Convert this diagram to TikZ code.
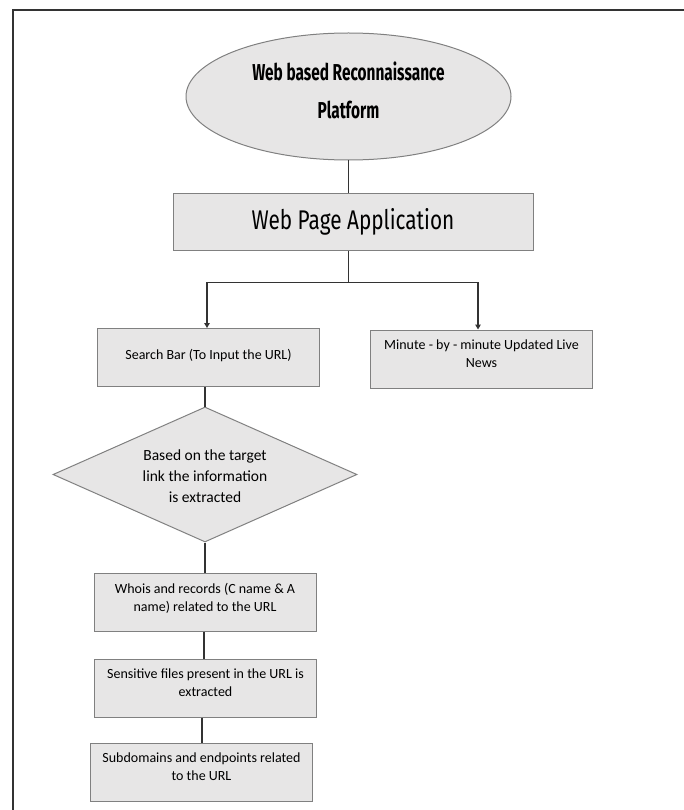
\documentclass[tikz,border=0pt]{standalone}
\usepackage{fontspec}
\setmainfont{Carlito}
\newfontfamily\platformfont[FakeStretch=0.67]{Fira Sans}
\newfontfamily\pagefont[FakeStretch=0.77]{Fira Sans}
\usepackage{xcolor}
\usepackage{tikz}
\usetikzlibrary{calc}
\usetikzlibrary{arrows.meta,shapes.geometric}

\definecolor{boxfill}{HTML}{E7E6E6}
\definecolor{boxline}{HTML}{808080}
\definecolor{linkline}{HTML}{333333}

% text set at the top of a box
\newcommand{\toptext}[2][10pt]{\parbox[c][58pt][t]{222pt}{\centering\vspace*{#1}#2}}

\tikzset{
  procbox/.style={draw=boxline,fill=boxfill,line width=1pt,inner sep=0pt,
    font=\fontsize{14}{18}\selectfont},
  link/.style={draw=linkline,line width=1.2pt},
  linkarrow/.style={link,-{Triangle[length=5pt,width=5.5pt]}}
}

\begin{document}
\begin{tikzpicture}[x=1pt,y=-1pt]
\useasboundingbox (0,0) rectangle (684,810);

% Frame
\draw[line width=1.8pt,black!80] (13,810) -- (13,10) -- (684,10);

% Platform
\node[ellipse,draw=boxline,fill=boxfill,line width=1pt,inner sep=0pt,
  minimum width=325pt,minimum height=127pt,
  label={[align=center,yshift=6pt,
    font=\platformfont\bfseries\fontsize{23}{38}\selectfont]center:Web based Reconnaissance\\Platform}]
  (platform) at (348.5,96.5) {};

% Web page application
\node[procbox,minimum width=360pt,minimum height=56pt,
  font=\pagefont\fontsize{27}{30}\selectfont]
  (webapp) at (353,222) {Web Page Application};

% Two branches
\node[procbox] (search) at (208.5,357.5) {\toptext[21pt]{Search Bar (To Input the URL)}};
\node[procbox] (news) at (481.5,359) {\toptext{Minute - by - minute Updated Live\\News}};

% Decision
\node[diamond,aspect=2.25,draw=boxline,fill=boxfill,line width=1pt,inner sep=0pt,
  minimum width=304pt,minimum height=135pt,
  label={[align=center,yshift=-2pt,
    font=\fontsize{15.5}{21}\selectfont]center:Based on the target\\link the information\\is extracted}]
  (extract) at (205,474.5) {};

% Extracted information
\node[procbox] (whois) at (205,602) {\toptext{Whois and records (C name \& A\\name) related to the URL}};
\node[procbox] (files) at (205.5,688) {\toptext{Sensitive files present in the URL is\\extracted}};
\node[procbox] (subdom) at (201.5,772) {\toptext{Subdomains and endpoints related\\to the URL}};

% Connectors
\coordinate (split) at ($(platform.south)+(0,122)$);
\draw[link] (platform.south) -- (platform.south |- webapp.north);
\draw[link] (platform.south |- webapp.south) -- (split);
\draw[linkarrow] (split) -| ($(search.north)+(-1.5,0)$);
\draw[linkarrow] (split) -| ($(news.north)+(-3.5,0)$);
\draw[link] ($(search.south)+(-3.5,0)$) -- (extract.north);
\draw[link] (extract.south) -- (whois.north);
\draw[link] ($(whois.south)+(-1,0)$) -- ($(files.north)+(-1.5,0)$);
\draw[link] ($(files.south)+(-3.5,0)$) -- ($(subdom.north)+(0.5,0)$);

\end{tikzpicture}
\end{document}
